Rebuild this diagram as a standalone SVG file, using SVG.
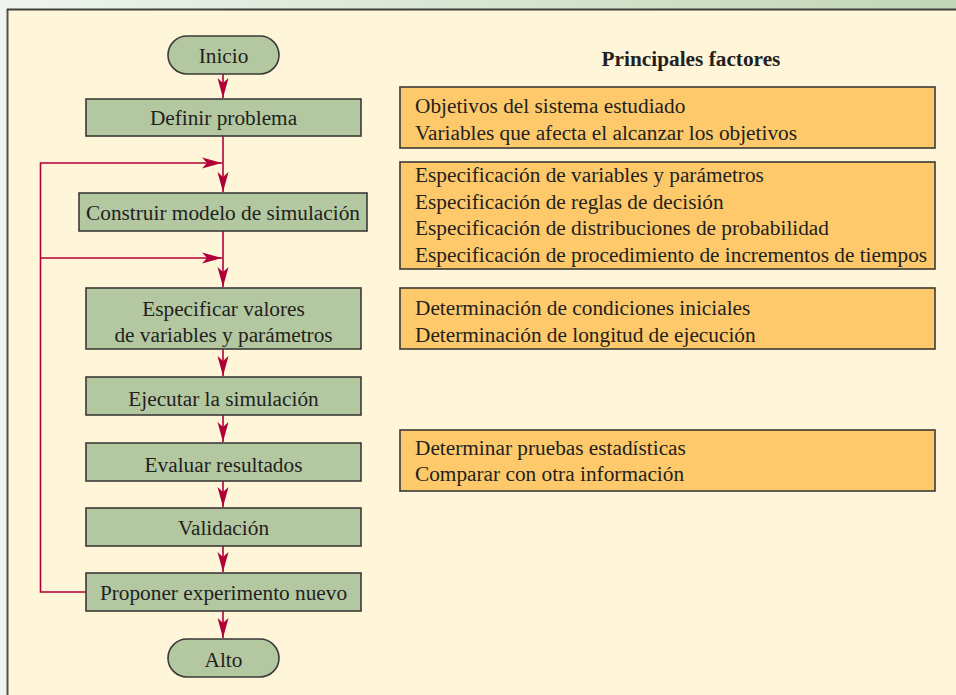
<svg xmlns="http://www.w3.org/2000/svg" width="956" height="695" viewBox="0 0 956 695">
<defs>
<linearGradient id="topg" x1="0" y1="0" x2="1" y2="0">
<stop offset="0" stop-color="#eef4ee"/>
<stop offset="1" stop-color="#c2d6b6"/>
</linearGradient>
<marker id="ah" viewBox="-20 -6 20 12" markerWidth="20" markerHeight="12" refX="0" refY="0" orient="auto" markerUnits="userSpaceOnUse">
<path d="M0,0 L-20,-5.5 L-15,0 L-20,5.5 Z" fill="#b0003a"/>
</marker>
<style>
.t{font-family:"Liberation Serif","Times New Roman",serif;font-size:21.3px;fill:#231f20}
.c{text-anchor:middle}
.n{fill:#b3c8a1;stroke:#3a3a36;stroke-width:1.6}
.f{fill:#fec96b;stroke:#3a3a36;stroke-width:1.6}
.e{fill:none;stroke:#b0003a;stroke-width:1.6}
</style>
</defs>
<rect x="0" y="0" width="956" height="695" fill="#f0f5ef"/>
<rect x="0" y="0" width="956" height="9" fill="url(#topg)"/>
<rect x="7" y="9" width="949" height="686" fill="#fff5d8"/>
<line x1="7.5" y1="9" x2="7.5" y2="695" stroke="#555350" stroke-width="2"/>
<line x1="7" y1="9.5" x2="956" y2="9.5" stroke="#3f3e38" stroke-width="2"/>

<g id="connectors">
<line class="e" x1="223" y1="74" x2="223" y2="98" marker-end="url(#ah)"/>
<line class="e" x1="223" y1="136" x2="223" y2="192" marker-end="url(#ah)"/>
<line class="e" x1="223" y1="231" x2="223" y2="287" marker-end="url(#ah)"/>
<line class="e" x1="223" y1="349" x2="223" y2="376" marker-end="url(#ah)"/>
<line class="e" x1="223" y1="415" x2="223" y2="442" marker-end="url(#ah)"/>
<line class="e" x1="223" y1="481" x2="223" y2="507" marker-end="url(#ah)"/>
<line class="e" x1="223" y1="546" x2="223" y2="572" marker-end="url(#ah)"/>
<line class="e" x1="223" y1="611" x2="223" y2="638" marker-end="url(#ah)"/>
<path class="e" d="M86,592 H40.5 V163 H222" marker-end="url(#ah)"/>
<path class="e" d="M40.5,258 H222" marker-end="url(#ah)"/>
</g>

<g id="inicio">
<rect class="n" x="168" y="36" width="111" height="38" rx="19" ry="19"/>
<text class="t c" x="223.5" y="63">Inicio</text>
</g>
<g id="definir">
<rect class="n" x="86" y="99" width="275" height="37"/>
<text class="t c" x="223.5" y="125">Definir problema</text>
</g>
<g id="construir">
<rect class="n" x="79" y="193" width="288" height="38"/>
<text class="t c" x="223" y="220">Construir modelo de simulación</text>
</g>
<g id="especificar">
<rect class="n" x="86" y="288" width="275" height="61"/>
<text class="t c" x="223.5" y="316">Especificar valores</text>
<text class="t c" x="223.5" y="342">de variables y parámetros</text>
</g>
<g id="ejecutar">
<rect class="n" x="86" y="377" width="275" height="38"/>
<text class="t c" x="223.5" y="406">Ejecutar la simulación</text>
</g>
<g id="evaluar">
<rect class="n" x="86" y="443" width="275" height="38"/>
<text class="t c" x="223.5" y="472">Evaluar resultados</text>
</g>
<g id="validacion">
<rect class="n" x="86" y="508" width="275" height="38"/>
<text class="t c" x="223.5" y="535">Validación</text>
</g>
<g id="proponer">
<rect class="n" x="86" y="573" width="275" height="38"/>
<text class="t c" x="223.5" y="600">Proponer experimento nuevo</text>
</g>
<g id="alto">
<rect class="n" x="168" y="639" width="111" height="38" rx="19" ry="19"/>
<text class="t c" x="223.5" y="667">Alto</text>
</g>

<g id="titulo">
<text class="t c" x="691" y="66" style="font-weight:bold">Principales factores</text>
</g>
<g id="factores1">
<rect class="f" x="400" y="87" width="535" height="61"/>
<text class="t" x="415" y="113">Objetivos del sistema estudiado</text>
<text class="t" x="415" y="140">Variables que afecta el alcanzar los objetivos</text>
</g>
<g id="factores2">
<rect class="f" x="400" y="162" width="535" height="107"/>
<text class="t" x="415" y="182">Especificación de variables y parámetros</text>
<text class="t" x="415" y="209">Especificación de reglas de decisión</text>
<text class="t" x="415" y="235">Especificación de distribuciones de probabilidad</text>
<text class="t" x="415" y="262">Especificación de procedimiento de incrementos de tiempos</text>
</g>
<g id="factores3">
<rect class="f" x="400" y="288" width="535" height="61"/>
<text class="t" x="415" y="315">Determinación de condiciones iniciales</text>
<text class="t" x="415" y="342">Determinación de longitud de ejecución</text>
</g>
<g id="factores4">
<rect class="f" x="400" y="430" width="535" height="61"/>
<text class="t" x="415" y="455">Determinar pruebas estadísticas</text>
<text class="t" x="415" y="481">Comparar con otra información</text>
</g>
</svg>
